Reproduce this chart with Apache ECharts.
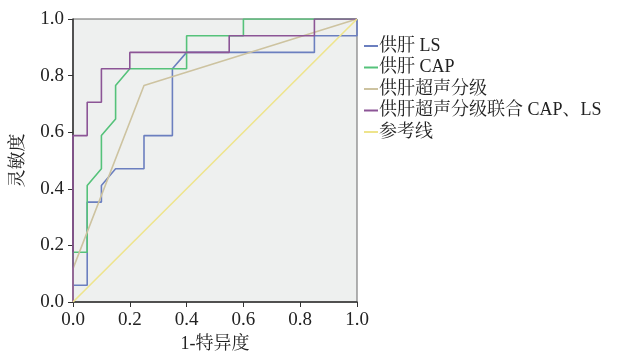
<!DOCTYPE html>
<html><head><meta charset="utf-8">
<script src="https://cdn.jsdelivr.net/npm/echarts@6/dist/echarts.min.js"></script>
<style>html,body{margin:0;padding:0;background:#fff}#c{width:627px;height:352px}</style>
</head><body><div id="c"></div>
<script>
var seriesNames = ['供肝 LS', '供肝 CAP', '供肝超声分级', '供肝超声分级联合 CAP、LS', '参考线'];
var colors = ['#6b7fbf', '#55c27a', '#cdc3a0', '#8c5596', '#eee48c'];
var lsX = [0, 0, 0.05, 0.05, 0.1, 0.1, 0.15, 0.25, 0.25, 0.35, 0.35, 0.4, 0.85, 0.85, 1, 1];
var lsY = [0, 0.059, 0.059, 0.353, 0.353, 0.412, 0.471, 0.471, 0.588, 0.588, 0.824, 0.882, 0.882, 0.941, 0.941, 1];
var capX = [0, 0, 0.05, 0.05, 0.1, 0.1, 0.15, 0.15, 0.2, 0.4, 0.4, 0.6, 0.6, 1];
var capY = [0, 0.176, 0.176, 0.412, 0.471, 0.588, 0.647, 0.765, 0.824, 0.824, 0.941, 0.941, 1, 1];
var usX = [0, 0, 0.25, 1];
var usY = [0, 0.118, 0.765, 1];
var combX = [0, 0, 0.05, 0.05, 0.1, 0.1, 0.2, 0.2, 0.55, 0.55, 0.85, 0.85, 1];
var combY = [0, 0.588, 0.588, 0.706, 0.706, 0.824, 0.824, 0.882, 0.882, 0.941, 0.941, 1, 1];
var refX = [0, 1];
var refY = [0, 1];
var tickVals = [0, 0.2, 0.4, 0.6, 0.8, 1.0];

function pairs(xs, ys) { return xs.map(function (x, i) { return [x, ys[i]]; }); }
var font = '"Liberation Serif", "Noto Serif CJK SC", "Noto Sans CJK SC", serif';
var allData = [pairs(lsX, lsY), pairs(capX, capY), pairs(usX, usY), pairs(combX, combY), pairs(refX, refY)];
var order = [4, 2, 0, 1, 3];
var series = order.map(function (k) {
  return {
    name: seriesNames[k], type: 'line', data: allData[k], showSymbol: false, symbol: 'none',
    lineStyle: { color: colors[k], width: 1.6 }, itemStyle: { color: colors[k] },
    animation: false, z: 2 + k
  };
});
var chart = echarts.init(document.getElementById('c'));
chart.setOption({
  animation: false,
  grid: { left: 73, top: 19, width: 284, height: 283, containLabel: false, outerBoundsMode: 'none', show: true, backgroundColor: '#eef0ef', borderColor: '#666', borderWidth: 1 },
  legend: {
    orient: 'vertical', left: 364, top: 37, padding: 0, icon: 'rect', itemWidth: 14, itemHeight: 2, itemGap: 3.5,
    data: seriesNames,
    textStyle: { fontFamily: font, fontSize: 18, lineHeight: 18, color: '#222', padding: [0, 0, 0, -4] }
  },
  xAxis: {
    type: 'value', min: 0, max: 1, interval: 0.2,
    name: '1-特异度', nameLocation: 'middle', nameGap: 29,
    nameTextStyle: { fontFamily: font, fontSize: 18, color: '#222' },
    axisLine: { lineStyle: { color: '#333', width: 1.5 } },
    axisTick: { inside: false, length: 5, lineStyle: { color: '#333' } },
    axisLabel: { fontFamily: font, fontSize: 19, color: '#222', margin: 9, formatter: function (v) { return v.toFixed(1); } },
    splitLine: { show: false }
  },
  yAxis: {
    type: 'value', min: 0, max: 1, interval: 0.2,
    name: '灵敏度', nameLocation: 'middle', nameGap: 46,
    nameTextStyle: { fontFamily: font, fontSize: 18, color: '#222' },
    axisLine: { lineStyle: { color: '#333', width: 1.5 } },
    axisTick: { inside: false, length: 5, lineStyle: { color: '#333' } },
    axisLabel: { fontFamily: font, fontSize: 19, color: '#222', margin: 9, formatter: function (v) { return v.toFixed(1); } },
    splitLine: { show: false }
  },
  series: series
});
</script></body></html>
